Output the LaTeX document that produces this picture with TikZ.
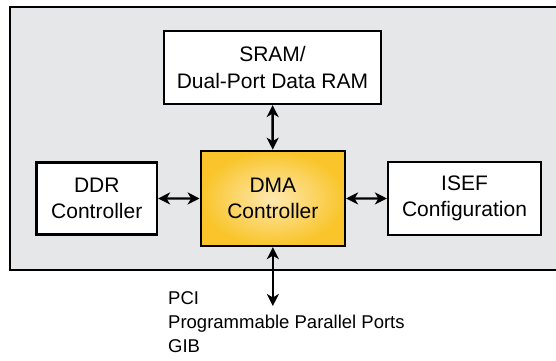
\documentclass[tikz,border=0pt]{standalone}
\usepackage{fontspec}
\setmainfont{Liberation Sans}
\usetikzlibrary{arrows.meta}
\definecolor{panelgray}{HTML}{E6E7E9}
\definecolor{dmaouter}{HTML}{F9C52A}
\definecolor{dmainner}{HTML}{FEE8B0}
\tikzset{
  blockbox/.style={draw, line width=2.2pt, fill=white, align=center,
    inner sep=0pt, font=\fontsize{21}{26.5}\selectfont},
  dmabox/.style={blockbox, fill=none, shading=radial,
    inner color=dmainner, outer color=dmaouter},
  dblarrow/.style={arrows={Stealth[length=12pt,width=12pt,inset=3.5pt]-Stealth[length=12pt,width=12pt,inset=3.5pt]}, line width=2.4pt}
}
\begin{document}
\begin{tikzpicture}[x=1pt, y=-1pt]
  \useasboundingbox (0,0) rectangle (556,360);
  % Grauer Rahmen (rechts offen)
  \fill[panelgray] (10,7) rectangle (556,270);
  \draw[line width=2.6pt] (556,7) -- (10,7) -- (10,270) -- (556,270);
  % Bloecke
  \node[blockbox, minimum width=217pt, minimum height=73pt] (sram) at (272.5,67.5)
    {SRAM/\\Dual-Port Data RAM};
  \node[blockbox, minimum width=120.5pt, minimum height=72pt] (ddr) at (96.75,198.5)
    {DDR\\Controller};
  \node[dmabox, minimum width=144.3pt, minimum height=95.3pt] (dma) at (272.85,198.4)
    {DMA\\Controller};
  \node[blockbox, minimum width=153pt, minimum height=73pt] (isef) at (464.5,198.5)
    {ISEF\\Configuration};
  % Pfeile
  \draw[dblarrow] (sram) -- (dma);
  \draw[dblarrow] (ddr) -- (dma);
  \draw[dblarrow] (dma) -- (isef);
  \coordinate (ext) at (272.85,306);
  \draw[dblarrow] (dma) -- (ext);
  % Schnittstellen
  \node[anchor=north west, align=left, inner sep=0pt,
    font=\fontsize{18.5}{24}\selectfont] (ports) at (168,291)
    {PCI\\Programmable Parallel Ports\\GIB};
\end{tikzpicture}
\end{document}
